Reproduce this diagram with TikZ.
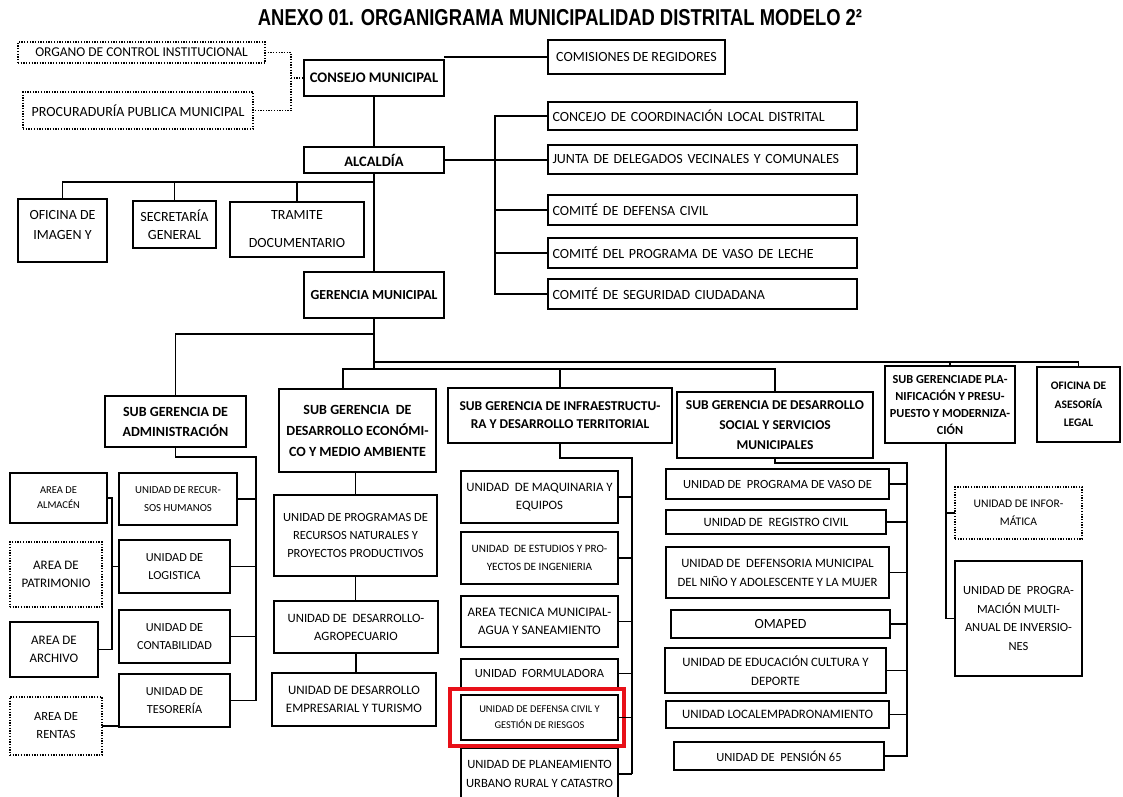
\documentclass[tikz,border=0pt]{standalone}
\usepackage{fontspec}
\setmainfont{Carlito}
\newfontfamily\titlefont[FakeStretch=0.8]{Liberation Sans}
\usetikzlibrary{positioning}
\definecolor{mark}{RGB}{232,16,24}
\newcommand\fs[2]{\fontsize{#1}{#2}\selectfont}
\tikzset{
  sz/.style 2 args={minimum width=#1, minimum height=#2},
  box/.style={draw, line width=1.3pt, align=center, inner sep=1pt, outer sep=0pt,
              font=\fs{12.5}{18}},
  head/.style={box, font=\bfseries\fs{13.5}{20}},
  dotbox/.style={box, dash pattern=on 1.3pt off 1.4pt},
  link/.style={line width=1.3pt},
  dotlink/.style={line width=1.3pt, dash pattern=on 1.3pt off 1.4pt},
  hl/.style={draw=mark, line width=4pt, inner sep=0pt}
}
\begin{document}
\begin{tikzpicture}[x=1pt,y=-1pt]
\useasboundingbox[fill=white] (0,0) rectangle (1123,796);

% title
\node (title) at (560,18) {\titlefont\bfseries\fs{23}{26}ANEXO 01. ORGANIGRAMA MUNICIPALIDAD DISTRITAL MODELO 2²};

% top level
\node[dotbox, sz={247}{21}, font=\fs{13.5}{18}] (organo) at (141.5,52.5) {ORGANO DE CONTROL INSTITUCIONAL};
\node[dotbox, sz={230}{37}, font=\fs{14}{18}] (procu) at (138,110.5) {PROCURADURÍA PUBLICA MUNICIPAL};
\node[head, sz={140}{36}, font=\bfseries\fs{14.6}{18}] (consejo) at (374,78) {CONSEJO MUNICIPAL};
\node[box, sz={177}{34}, font=\fs{14}{18}] (comisiones) at (636.5,57) {COMISIONES DE REGIDORES};
\node[head, sz={140}{26}, font=\bfseries\fs{14.5}{18}] (alcaldia) at (374,160) {ALCALDÍA};

% committees
\begin{scope}[every node/.style={box, sz={309}{28}, align=left, text width=300pt, font=\fs{14}{18}}]
\node (concejo) at (702.5,116) {CONCEJO DE COORDINACIÓN LOCAL DISTRITAL};
\node[minimum height=29pt] (junta) at (702.5,159.5) {JUNTA DE DELEGADOS VECINALES Y COMUNALES};
\node[minimum height=30pt] (cdefensa) at (702.5,210) {COMITÉ DE DEFENSA CIVIL};
\node[minimum height=30pt] (cleche) at (702.5,253) {COMITÉ DEL PROGRAMA DE VASO DE LECHE};
\node[minimum height=30pt] (cseguridad) at (702.5,294) {COMITÉ DE SEGURIDAD CIUDADANA};
\end{scope}

% offices under the mayor
\node[box, sz={89}{63}, font=\fs{14}{20}] (imagen) at (62.5,230.5) {OFICINA DE\\IMAGEN Y\\[-8pt]};
\node[box, sz={83}{47}, font=\fs{14}{18}] (secretaria) at (174.5,224.5) {SECRETARÍA\\GENERAL};
\node[box, sz={134}{55}, font=\fs{14}{28}] (tramite) at (297,229.5) {TRAMITE\\DOCUMENTARIO};
\node[head, sz={140}{46}, font=\bfseries\fs{13.8}{19}] (gerencia) at (374,295) {GERENCIA MUNICIPAL};

% sub-managements
\node[head, sz={141}{51}, font=\bfseries\fs{14}{20}] (admin) at (175.5,421.5) {SUB GERENCIA DE\\ADMINISTRACIÓN};
\node[head, sz={157}{83}, font=\bfseries\fs{14}{21}] (economico) at (357.5,430.5) {SUB GERENCIA \ DE\\DESARROLLO ECONÓMI-\\CO Y MEDIO AMBIENTE};
\node[head, sz={224}{55}, font=\bfseries\fs{13.5}{18}] (infra) at (560,415.5) {SUB GERENCIA DE INFRAESTRUCTU-\\RA Y DESARROLLO TERRITORIAL};
\node[head, sz={196}{66}, font=\bfseries\fs{13.5}{20}] (social) at (775,425) {SUB GERENCIA DE DESARROLLO\\SOCIAL Y SERVICIOS\\MUNICIPALES};
\node[head, sz={130}{77}, font=\bfseries\fs{12.3}{17}] (planif) at (950,404.5) {SUB GERENCIADE PLA-\\NIFICACIÓN Y PRESU-\\PUESTO Y MODERNIZA-\\CIÓN};
\node[head, sz={83}{75}, font=\bfseries\fs{11.5}{18.5}] (asesoria) at (1078.5,404.5) {OFICINA DE\\ASESORÍA\\LEGAL};

% administration units and areas
\node[box, sz={118}{52}, font=\fs{10.8}{18}] (rrhh) at (178,499) {UNIDAD DE RECUR-\\SOS HUMANOS};
\node[box, sz={111}{53}, font=\fs{12.3}{18}] (logistica) at (174.5,566.5) {UNIDAD DE\\LOGISTICA};
\node[box, sz={111}{53}, font=\fs{12.3}{18}] (contabilidad) at (174.5,636.5) {UNIDAD DE\\CONTABILIDAD};
\node[box, sz={111}{53}, font=\fs{12.3}{18}] (tesoreria) at (174.5,700.5) {UNIDAD DE\\TESORERÍA};
\node[box, sz={97}{50}, font=\fs{10.5}{15}] (almacen) at (58.5,498) {AREA DE\\ALMACÉN};
\node[dotbox, sz={92}{65}, font=\fs{13}{18}] (patrimonio) at (56,574.5) {AREA DE\\PATRIMONIO};
\node[box, sz={88}{55}, font=\fs{13}{18}] (archivo) at (54,649.5) {AREA DE\\ARCHIVO};
\node[dotbox, sz={92}{58}, font=\fs{12.5}{18}] (rentas) at (56,726) {AREA DE\\RENTAS};

% economic development units
\node[box, sz={163}{81}] (recnat) at (355.5,535.5) {UNIDAD DE PROGRAMAS DE\\RECURSOS NATURALES Y\\PROYECTOS PRODUCTIVOS};
\node[box, sz={164}{52}, font=\fs{12.7}{18}] (agro) at (356,627) {UNIDAD DE \ DESARROLLO-\\AGROPECUARIO};
\node[box, sz={164}{53}, font=\fs{12.9}{18}] (empresarial) at (354,699.5) {UNIDAD DE DESARROLLO\\EMPRESARIAL Y TURISMO};

% infrastructure units
\begin{scope}[every node/.append style={box, minimum width=157pt}]
\node[minimum height=52pt, font=\fs{12.8}{18}] (maquinaria) at (539.5,497) {UNIDAD \ DE MAQUINARIA Y\\EQUIPOS};
\node[minimum height=52pt, font=\fs{11.2}{18}] (estudios) at (539.5,558) {UNIDAD \ DE ESTUDIOS Y PRO-\\YECTOS DE INGENIERIA};
\node[minimum height=51pt, font=\fs{13}{18}] (tecnica) at (539.5,621.5) {AREA TECNICA MUNICIPAL-\\AGUA Y SANEAMIENTO};
\node[minimum height=29pt] (formuladora) at (539.5,673.5) {UNIDAD \ FORMULADORA};
\node[minimum height=45pt, font=\fs{10.4}{16}] (defensa) at (539.5,717.5) {UNIDAD DE DEFENSA CIVIL Y\\GESTIÓN DE RIESGOS};
\node[minimum height=52pt, font=\fs{12.6}{19}] (planeamiento) at (539.5,774) {UNIDAD DE PLANEAMIENTO\\URBANO RURAL Y CATASTRO};
\end{scope}
\node[hl, sz={174}{57}] (marca) at (537,717.5) {};

% social development units
\node[box, sz={223}{30}] (vaso) at (777.5,484) {UNIDAD DE \ PROGRAMA DE VASO DE};
\node[box, sz={220}{24}, font=\fs{12.7}{18}] (registro) at (776,522) {UNIDAD DE \ REGISTRO CIVIL};
\node[box, sz={223}{51}, font=\fs{12.7}{19}] (defensoria) at (777.5,572.5) {UNIDAD DE \ DEFENSORIA MUNICIPAL\\DEL NIÑO Y ADOLESCENTE Y LA MUJER};
\node[box, sz={219}{28}, font=\fs{14}{18}] (omaped) at (780.5,624) {OMAPED};
\node[box, sz={221}{45}, font=\fs{12.8}{19}] (educacion) at (775.5,670.5) {UNIDAD DE EDUCACIÓN CULTURA Y\\DEPORTE};
\node[box, sz={223}{27}, line width=2pt, font=\fs{12.8}{18}] (empadron) at (777.5,714.5) {UNIDAD LOCALEMPADRONAMIENTO};
\node[box, sz={210}{28}] (pension) at (779,756) {UNIDAD DE \ PENSIÓN 65};

% planning units
\node[dotbox, sz={127}{52}, font=\fs{11.6}{18.5}] (informatica) at (1018.5,513) {UNIDAD DE INFOR-\\MÁTICA};
\node[box, sz={127}{115}, font=\fs{12.5}{18.5}] (programacion) at (1018.5,618.5) {UNIDAD DE \ PROGRA-\\MACIÓN MULTI-\\ANUAL DE INVERSIO-\\NES};

% ---- connectors ----
\coordinate (dj) at (291,78);
\draw[dotlink] (organo.east) -| (dj) |- (procu.east);
\draw[dotlink] (dj) -- (consejo.west);
\draw[link] (consejo.east |- comisiones.west) -- (comisiones.west);
\draw[link] (consejo.south) -- (alcaldia.north);
\draw[link] (alcaldia.south) -- (gerencia.north);
\draw[link] (alcaldia.east) -- (alcaldia.east -| junta.west);

\coordinate (cb) at (495,116);
\draw[link] (concejo.west) -- (concejo.west -| cb) -- (cb |- cseguridad.west) -- (cseguridad.west);
\draw[link] (cdefensa.west) -- (cdefensa.west -| cb);
\draw[link] (cleche.west) -- (cleche.west -| cb);

\coordinate (ab) at (374,182);
\draw[link] (imagen.north) |- (ab);
\draw[link] (secretaria.north) -- (secretaria.north |- ab);
\draw[link] (tramite.north) -- (tramite.north |- ab);

\coordinate (g1) at (374,334);
\coordinate (g2) at (374,362);
\coordinate (g3) at (343,369);
\draw[link] (gerencia.south) -- (gerencia.south |- g3);
\draw[link] (g1) -| (admin.north);
\draw[link] (g2) -| (asesoria.north);
\draw[link] (planif.north) -- (planif.north |- g2);
\draw[link] (economico.north -| g3) -- (g3) -| (social.north);
\draw[link] (infra.north) -- (infra.north |- g3);

\coordinate (adb) at (256,457);
\draw[link] (admin.south) |- (adb) -- (adb |- tesoreria.east) -- (tesoreria.east);
\foreach \u in {rrhh,logistica,contabilidad}
  \draw[link] (\u.east) -- (\u.east -| adb);
\coordinate (lb) at (112,498);
\draw[link] (almacen.east) -- (lb) -- (lb |- archivo.east) -- (archivo.east);
\draw[link] (logistica.west) -- (logistica.west -| lb);
\draw[link] (rentas.east) -- (rentas.east -| tesoreria.west);

\draw[link] (economico.south -| recnat.north) -- (recnat.north);
\draw[link] (recnat.south) -- (recnat.south |- agro.north);
\draw[link] (agro.south) -- (agro.south |- empresarial.north);

\coordinate (ib) at (632,458);
\draw[link] (infra.south) |- (ib) -- (ib |- planeamiento.east);
\foreach \u in {maquinaria,estudios,tecnica,formuladora,defensa,planeamiento}
  \draw[link] (\u.east) -- (\u.east -| ib);

\coordinate (sb) at (907,463);
\draw[link] (social.south) |- (sb) -- (sb |- pension.east) -- (pension.east);
\foreach \u in {vaso,registro,defensoria,omaped,educacion,empadron}
  \draw[link] (\u.east) -- (\u.east -| sb);

\coordinate (pb) at (946,443);
\draw[link] (pb) -- (pb |- programacion.west) -- (programacion.west);
\draw[link] (informatica.west) -- (informatica.west -| pb);
\end{tikzpicture}
\end{document}
